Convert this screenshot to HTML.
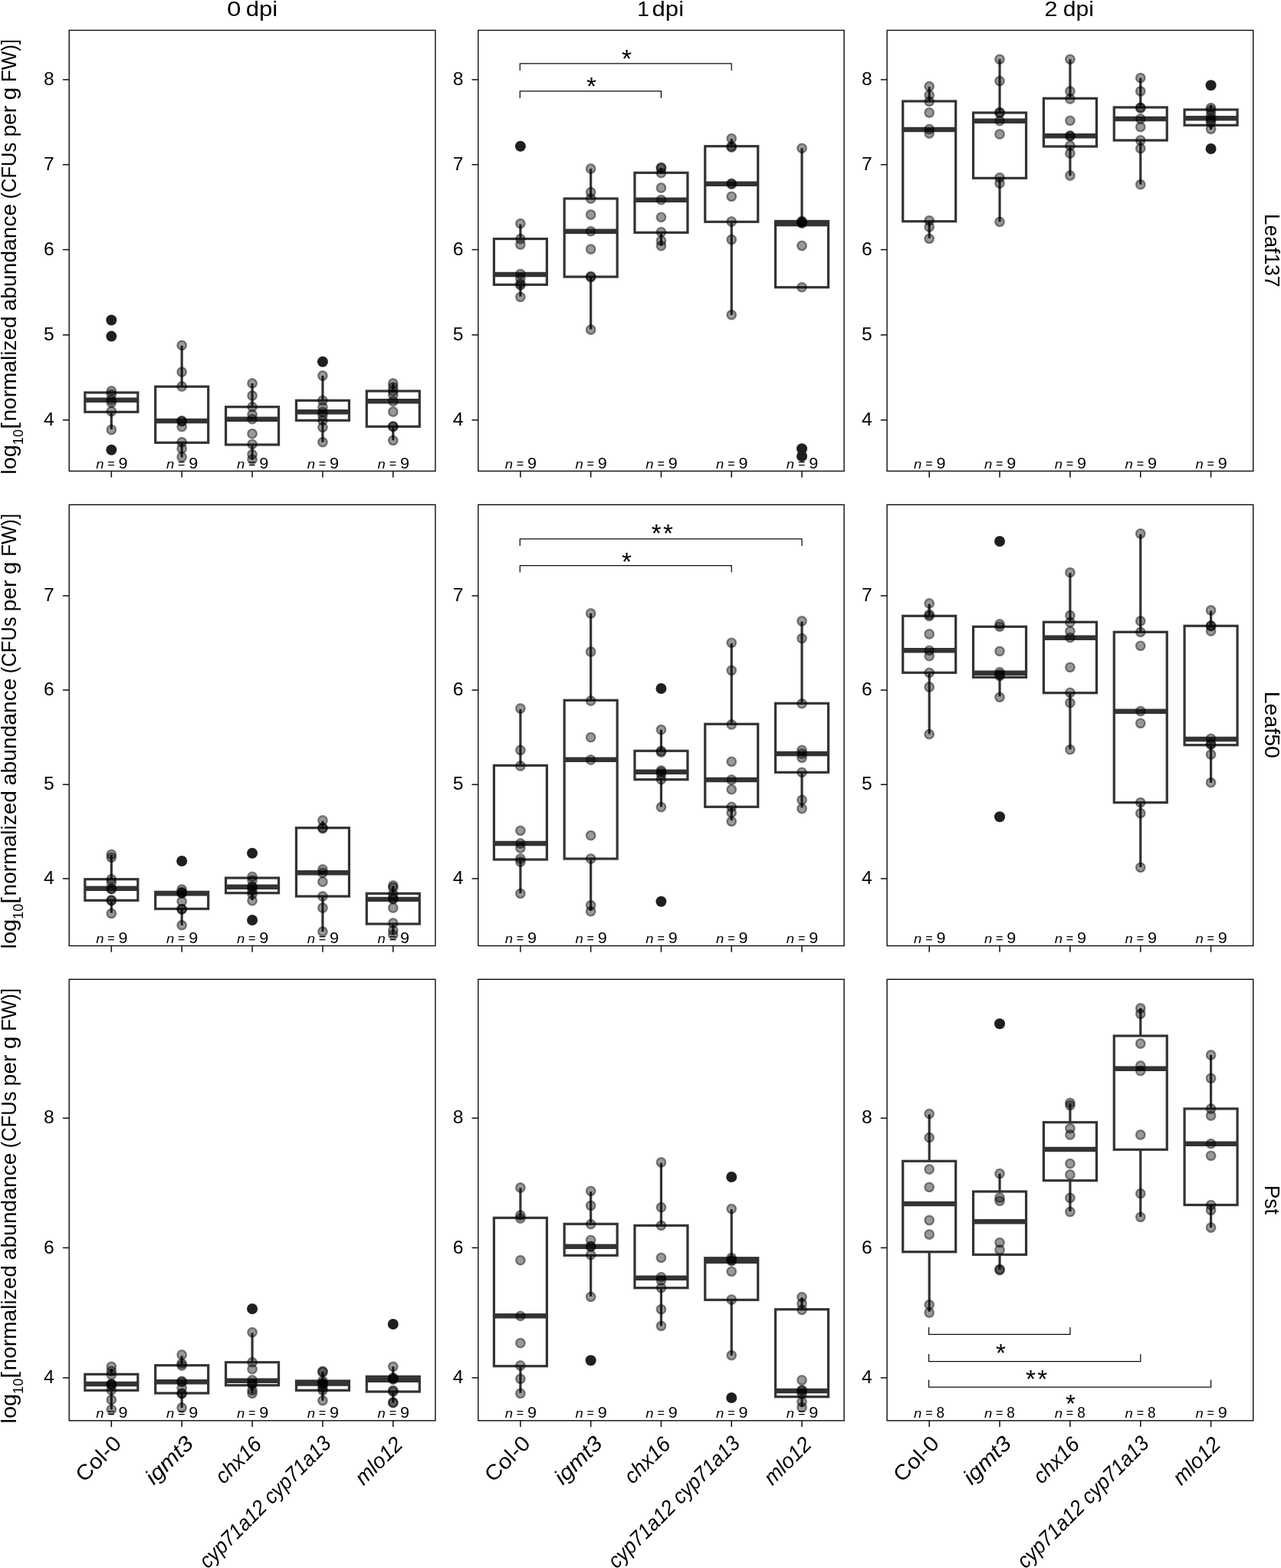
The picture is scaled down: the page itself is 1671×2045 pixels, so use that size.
<!DOCTYPE html>
<html lang="en"><head><meta charset="utf-8"><title>Bacterial abundance box plots</title>
<style>
html,body{margin:0;padding:0;background:#fff;overflow:hidden;}
body{width:1671px;height:2045px;overflow:hidden;}
svg{display:block;font-family:"Liberation Sans",sans-serif;fill:#000;}
.fr{fill:none;stroke:#0d0d0d;stroke-width:1.4;}
.tk{stroke:#0d0d0d;stroke-width:1.5;fill:none;}
.bx{fill:#fff;stroke:#333333;stroke-width:3.2;stroke-linejoin:miter;}
.wh{stroke:#333333;stroke-width:3.2;fill:none;}
.md{stroke:#333333;stroke-width:6.4;fill:none;}
.ol{fill:#1f1f1f;stroke:none;}
.pt{fill:rgba(0,0,0,0.4);stroke:rgba(0,0,0,0.45);stroke-width:2.2;}
.br{stroke:#0d0d0d;stroke-width:1.25;fill:none;}
.yt{font-size:23.5px;text-anchor:end;}
.tt{font-size:28px;}
.yl{font-size:27.8px;}
.sl{font-size:27.8px;}
.xl{font-size:27.8px;text-anchor:end;}
.nl{font-size:19.5px;}
.nn{font-size:17.4px;font-style:italic;}
.ne{font-size:14px;}
.st{font-size:33.4px;}
.it{font-style:italic;}
</style></head><body>
<svg width="1671" height="2045" viewBox="0 0 1671 2045" role="img" aria-label="Box plots of log10 normalized bacterial abundance for Leaf137, Leaf50 and Pst at 0, 1 and 2 dpi">
<rect x="0" y="0" width="1671" height="2045" fill="#fff"/>
<g class="tt">
<text y="20.8"><tspan x="296.01" textLength="18.46" lengthAdjust="spacingAndGlyphs">0</tspan> <tspan x="320.71" textLength="41.47" lengthAdjust="spacingAndGlyphs">dpi</tspan></text>
<text y="20.8"><tspan x="831.13" textLength="15.58" lengthAdjust="spacingAndGlyphs">1</tspan> <tspan x="850.51" textLength="41.58" lengthAdjust="spacingAndGlyphs">dpi</tspan></text>
<text y="20.8"><tspan x="1362.46" textLength="16.98" lengthAdjust="spacingAndGlyphs">2</tspan> <tspan x="1386.76" textLength="40.16" lengthAdjust="spacingAndGlyphs">dpi</tspan></text>
</g>
<g class="yl">
<text transform="translate(21.1,620) rotate(-90)"><tspan x="1.28" textLength="38.66" lengthAdjust="spacingAndGlyphs">log</tspan><tspan x="39.87" textLength="20.14" lengthAdjust="spacingAndGlyphs" dy="8.6" style="font-size:19px">10</tspan><tspan x="60.15" textLength="8.72" lengthAdjust="spacingAndGlyphs" dy="-8.6">[</tspan><tspan x="70.43" textLength="137.3" lengthAdjust="spacingAndGlyphs">normalized</tspan> <tspan x="214.63" textLength="139.62" lengthAdjust="spacingAndGlyphs">abundance</tspan> <tspan x="360.49" textLength="73.77" lengthAdjust="spacingAndGlyphs">(CFUs</tspan> <tspan x="441.43" textLength="40.72" lengthAdjust="spacingAndGlyphs">per</tspan> <tspan x="489.55" textLength="16.71" lengthAdjust="spacingAndGlyphs">g</tspan> <tspan x="513.01" textLength="55.9" lengthAdjust="spacingAndGlyphs">FW)]</tspan></text>
<text transform="translate(21.1,1238.8) rotate(-90)"><tspan x="1.28" textLength="38.66" lengthAdjust="spacingAndGlyphs">log</tspan><tspan x="39.87" textLength="20.14" lengthAdjust="spacingAndGlyphs" dy="8.6" style="font-size:19px">10</tspan><tspan x="60.15" textLength="8.72" lengthAdjust="spacingAndGlyphs" dy="-8.6">[</tspan><tspan x="70.43" textLength="137.3" lengthAdjust="spacingAndGlyphs">normalized</tspan> <tspan x="214.63" textLength="139.62" lengthAdjust="spacingAndGlyphs">abundance</tspan> <tspan x="360.49" textLength="73.77" lengthAdjust="spacingAndGlyphs">(CFUs</tspan> <tspan x="441.43" textLength="40.72" lengthAdjust="spacingAndGlyphs">per</tspan> <tspan x="489.55" textLength="16.71" lengthAdjust="spacingAndGlyphs">g</tspan> <tspan x="513.01" textLength="55.9" lengthAdjust="spacingAndGlyphs">FW)]</tspan></text>
<text transform="translate(21.1,1857.8) rotate(-90)"><tspan x="1.28" textLength="38.66" lengthAdjust="spacingAndGlyphs">log</tspan><tspan x="39.87" textLength="20.14" lengthAdjust="spacingAndGlyphs" dy="8.6" style="font-size:19px">10</tspan><tspan x="60.15" textLength="8.72" lengthAdjust="spacingAndGlyphs" dy="-8.6">[</tspan><tspan x="70.43" textLength="137.3" lengthAdjust="spacingAndGlyphs">normalized</tspan> <tspan x="214.63" textLength="139.62" lengthAdjust="spacingAndGlyphs">abundance</tspan> <tspan x="360.49" textLength="73.77" lengthAdjust="spacingAndGlyphs">(CFUs</tspan> <tspan x="441.43" textLength="40.72" lengthAdjust="spacingAndGlyphs">per</tspan> <tspan x="489.55" textLength="16.71" lengthAdjust="spacingAndGlyphs">g</tspan> <tspan x="513.01" textLength="55.9" lengthAdjust="spacingAndGlyphs">FW)]</tspan></text>
</g>
<g class="sl">
<text transform="translate(1649.8,278.86) rotate(90) scale(0.953,1)">Leaf137</text>
<text transform="translate(1649.7,901.69) rotate(90) scale(1.0263,1)">Leaf50</text>
<text transform="translate(1649.65,1545.65) rotate(90) scale(0.9536,1)">Pst</text>
</g>
<g>
<line class="wh" x1="145.32" y1="537.3" x2="145.32" y2="560"/>
<rect class="bx" x="110.82" y="512" width="69" height="25.3"/>
<line class="md" x1="110.82" y1="521.7" x2="179.82" y2="521.7"/>
<circle class="ol" cx="145.32" cy="417.5" r="7.0"/>
<circle class="ol" cx="145.32" cy="438.6" r="7.0"/>
<circle class="ol" cx="145.32" cy="586.7" r="7.0"/>
<line class="wh" x1="237.18" y1="451" x2="237.18" y2="504.2"/>
<line class="wh" x1="237.18" y1="577.3" x2="237.18" y2="596.7"/>
<rect class="bx" x="202.68" y="504.2" width="69" height="73.1"/>
<line class="md" x1="202.68" y1="549" x2="271.68" y2="549"/>
<line class="wh" x1="329.05" y1="500" x2="329.05" y2="530.7"/>
<line class="wh" x1="329.05" y1="580" x2="329.05" y2="600"/>
<rect class="bx" x="294.55" y="530.7" width="69" height="49.3"/>
<line class="md" x1="294.55" y1="546.7" x2="363.55" y2="546.7"/>
<line class="wh" x1="420.92" y1="490" x2="420.92" y2="522.3"/>
<line class="wh" x1="420.92" y1="548.3" x2="420.92" y2="576.7"/>
<rect class="bx" x="386.42" y="522.3" width="69" height="26"/>
<line class="md" x1="386.42" y1="537.3" x2="455.42" y2="537.3"/>
<circle class="ol" cx="420.92" cy="471.7" r="7.0"/>
<line class="wh" x1="512.78" y1="500" x2="512.78" y2="510"/>
<line class="wh" x1="512.78" y1="556.3" x2="512.78" y2="574.3"/>
<rect class="bx" x="478.28" y="510" width="69" height="46.3"/>
<line class="md" x1="478.28" y1="523.3" x2="547.28" y2="523.3"/>
<g class="nl">
<text transform="translate(145.32,611)"><tspan class="nn" x="-20.17" textLength="10.28" lengthAdjust="spacingAndGlyphs">n</tspan> <tspan class="ne" x="-5.07" dy="-1" textLength="9.45" lengthAdjust="spacingAndGlyphs">=</tspan> <tspan x="9.19" dy="1" textLength="12.04" lengthAdjust="spacingAndGlyphs">9</tspan></text>
<text transform="translate(237.18,611)"><tspan class="nn" x="-20.17" textLength="10.28" lengthAdjust="spacingAndGlyphs">n</tspan> <tspan class="ne" x="-5.07" dy="-1" textLength="9.45" lengthAdjust="spacingAndGlyphs">=</tspan> <tspan x="9.19" dy="1" textLength="12.04" lengthAdjust="spacingAndGlyphs">9</tspan></text>
<text transform="translate(329.05,611)"><tspan class="nn" x="-20.17" textLength="10.28" lengthAdjust="spacingAndGlyphs">n</tspan> <tspan class="ne" x="-5.07" dy="-1" textLength="9.45" lengthAdjust="spacingAndGlyphs">=</tspan> <tspan x="9.19" dy="1" textLength="12.04" lengthAdjust="spacingAndGlyphs">9</tspan></text>
<text transform="translate(420.92,611)"><tspan class="nn" x="-20.17" textLength="10.28" lengthAdjust="spacingAndGlyphs">n</tspan> <tspan class="ne" x="-5.07" dy="-1" textLength="9.45" lengthAdjust="spacingAndGlyphs">=</tspan> <tspan x="9.19" dy="1" textLength="12.04" lengthAdjust="spacingAndGlyphs">9</tspan></text>
<text transform="translate(512.78,611)"><tspan class="nn" x="-20.17" textLength="10.28" lengthAdjust="spacingAndGlyphs">n</tspan> <tspan class="ne" x="-5.07" dy="-1" textLength="9.45" lengthAdjust="spacingAndGlyphs">=</tspan> <tspan x="9.19" dy="1" textLength="12.04" lengthAdjust="spacingAndGlyphs">9</tspan></text>
</g>
<circle class="pt" cx="145.32" cy="510" r="5.8"/>
<circle class="pt" cx="145.32" cy="514.5" r="5.8"/>
<circle class="pt" cx="145.32" cy="521.7" r="5.8"/>
<circle class="pt" cx="145.32" cy="525" r="5.8"/>
<circle class="pt" cx="145.32" cy="536.5" r="5.8"/>
<circle class="pt" cx="145.32" cy="560.5" r="5.8"/>
<circle class="pt" cx="237.18" cy="450.4" r="5.8"/>
<circle class="pt" cx="237.18" cy="485.2" r="5.8"/>
<circle class="pt" cx="237.18" cy="504" r="5.8"/>
<circle class="pt" cx="237.18" cy="549" r="5.8"/>
<circle class="pt" cx="237.18" cy="549.5" r="5.8"/>
<circle class="pt" cx="237.18" cy="556.7" r="5.8"/>
<circle class="pt" cx="237.18" cy="576.7" r="5.8"/>
<circle class="pt" cx="237.18" cy="585" r="5.8"/>
<circle class="pt" cx="237.18" cy="596" r="5.8"/>
<circle class="pt" cx="329.05" cy="500" r="5.8"/>
<circle class="pt" cx="329.05" cy="516" r="5.8"/>
<circle class="pt" cx="329.05" cy="530.7" r="5.8"/>
<circle class="pt" cx="329.05" cy="540.7" r="5.8"/>
<circle class="pt" cx="329.05" cy="546.7" r="5.8"/>
<circle class="pt" cx="329.05" cy="565.7" r="5.8"/>
<circle class="pt" cx="329.05" cy="579.3" r="5.8"/>
<circle class="pt" cx="329.05" cy="592.7" r="5.8"/>
<circle class="pt" cx="329.05" cy="599.3" r="5.8"/>
<circle class="pt" cx="420.92" cy="490" r="5.8"/>
<circle class="pt" cx="420.92" cy="522.3" r="5.8"/>
<circle class="pt" cx="420.92" cy="531" r="5.8"/>
<circle class="pt" cx="420.92" cy="537.3" r="5.8"/>
<circle class="pt" cx="420.92" cy="541.7" r="5.8"/>
<circle class="pt" cx="420.92" cy="548.3" r="5.8"/>
<circle class="pt" cx="420.92" cy="557.3" r="5.8"/>
<circle class="pt" cx="420.92" cy="576.7" r="5.8"/>
<circle class="pt" cx="512.78" cy="500" r="5.8"/>
<circle class="pt" cx="512.78" cy="505" r="5.8"/>
<circle class="pt" cx="512.78" cy="510" r="5.8"/>
<circle class="pt" cx="512.78" cy="515" r="5.8"/>
<circle class="pt" cx="512.78" cy="523.3" r="5.8"/>
<circle class="pt" cx="512.78" cy="537" r="5.8"/>
<circle class="pt" cx="512.78" cy="556" r="5.8"/>
<circle class="pt" cx="512.78" cy="556.5" r="5.8"/>
<circle class="pt" cx="512.78" cy="574.3" r="5.8"/>
<rect class="fr" x="90.2" y="39.5" width="477.7" height="574.9"/>
<line class="tk" x1="81.9" y1="103.9" x2="90.2" y2="103.9"/>
<text class="yt" transform="translate(70.8,111) scale(1.05,1)">8</text>
<line class="tk" x1="81.9" y1="214.7" x2="90.2" y2="214.7"/>
<text class="yt" transform="translate(70.8,221.8) scale(1.05,1)">7</text>
<line class="tk" x1="81.9" y1="325.6" x2="90.2" y2="325.6"/>
<text class="yt" transform="translate(70.8,332.7) scale(1.05,1)">6</text>
<line class="tk" x1="81.9" y1="436.8" x2="90.2" y2="436.8"/>
<text class="yt" transform="translate(70.8,443.9) scale(1.05,1)">5</text>
<line class="tk" x1="81.9" y1="547.8" x2="90.2" y2="547.8"/>
<text class="yt" transform="translate(70.8,554.9) scale(1.05,1)">4</text>
<line class="tk" x1="145.32" y1="614.4" x2="145.32" y2="622.7"/>
<line class="tk" x1="237.18" y1="614.4" x2="237.18" y2="622.7"/>
<line class="tk" x1="329.05" y1="614.4" x2="329.05" y2="622.7"/>
<line class="tk" x1="420.92" y1="614.4" x2="420.92" y2="622.7"/>
<line class="tk" x1="512.78" y1="614.4" x2="512.78" y2="622.7"/>
</g>
<g>
<line class="wh" x1="678.87" y1="292.5" x2="678.87" y2="311.5"/>
<line class="wh" x1="678.87" y1="371.3" x2="678.87" y2="386.7"/>
<rect class="bx" x="644.37" y="311.5" width="69" height="59.8"/>
<line class="md" x1="644.37" y1="358" x2="713.37" y2="358"/>
<circle class="ol" cx="678.87" cy="190.7" r="7.0"/>
<line class="wh" x1="770.66" y1="220" x2="770.66" y2="259"/>
<line class="wh" x1="770.66" y1="361" x2="770.66" y2="429.5"/>
<rect class="bx" x="736.16" y="259" width="69" height="102"/>
<line class="md" x1="736.16" y1="301.7" x2="805.16" y2="301.7"/>
<line class="wh" x1="862.45" y1="219.3" x2="862.45" y2="225.3"/>
<line class="wh" x1="862.45" y1="303.3" x2="862.45" y2="320"/>
<rect class="bx" x="827.95" y="225.3" width="69" height="78"/>
<line class="md" x1="827.95" y1="260.7" x2="896.95" y2="260.7"/>
<line class="wh" x1="954.24" y1="181" x2="954.24" y2="190.7"/>
<line class="wh" x1="954.24" y1="289.3" x2="954.24" y2="410.7"/>
<rect class="bx" x="919.74" y="190.7" width="69" height="98.6"/>
<line class="md" x1="919.74" y1="239.7" x2="988.74" y2="239.7"/>
<line class="wh" x1="1046.03" y1="193.3" x2="1046.03" y2="288.5"/>
<rect class="bx" x="1011.53" y="288.5" width="69" height="86.2"/>
<line class="md" x1="1011.53" y1="292" x2="1080.53" y2="292"/>
<circle class="ol" cx="1046.03" cy="585.3" r="7.0"/>
<circle class="ol" cx="1046.03" cy="595" r="7.0"/>
<g class="nl">
<text transform="translate(678.87,611)"><tspan class="nn" x="-20.17" textLength="10.28" lengthAdjust="spacingAndGlyphs">n</tspan> <tspan class="ne" x="-5.07" dy="-1" textLength="9.45" lengthAdjust="spacingAndGlyphs">=</tspan> <tspan x="9.19" dy="1" textLength="12.04" lengthAdjust="spacingAndGlyphs">9</tspan></text>
<text transform="translate(770.66,611)"><tspan class="nn" x="-20.17" textLength="10.28" lengthAdjust="spacingAndGlyphs">n</tspan> <tspan class="ne" x="-5.07" dy="-1" textLength="9.45" lengthAdjust="spacingAndGlyphs">=</tspan> <tspan x="9.19" dy="1" textLength="12.04" lengthAdjust="spacingAndGlyphs">9</tspan></text>
<text transform="translate(862.45,611)"><tspan class="nn" x="-20.17" textLength="10.28" lengthAdjust="spacingAndGlyphs">n</tspan> <tspan class="ne" x="-5.07" dy="-1" textLength="9.45" lengthAdjust="spacingAndGlyphs">=</tspan> <tspan x="9.19" dy="1" textLength="12.04" lengthAdjust="spacingAndGlyphs">9</tspan></text>
<text transform="translate(954.24,611)"><tspan class="nn" x="-20.17" textLength="10.28" lengthAdjust="spacingAndGlyphs">n</tspan> <tspan class="ne" x="-5.07" dy="-1" textLength="9.45" lengthAdjust="spacingAndGlyphs">=</tspan> <tspan x="9.19" dy="1" textLength="12.04" lengthAdjust="spacingAndGlyphs">9</tspan></text>
<text transform="translate(1046.03,611)"><tspan class="nn" x="-20.17" textLength="10.28" lengthAdjust="spacingAndGlyphs">n</tspan> <tspan class="ne" x="-5.07" dy="-1" textLength="9.45" lengthAdjust="spacingAndGlyphs">=</tspan> <tspan x="9.19" dy="1" textLength="12.04" lengthAdjust="spacingAndGlyphs">9</tspan></text>
</g>
<circle class="pt" cx="678.87" cy="291.7" r="5.8"/>
<circle class="pt" cx="678.87" cy="311.7" r="5.8"/>
<circle class="pt" cx="678.87" cy="319" r="5.8"/>
<circle class="pt" cx="678.87" cy="357.3" r="5.8"/>
<circle class="pt" cx="678.87" cy="363.3" r="5.8"/>
<circle class="pt" cx="678.87" cy="370" r="5.8"/>
<circle class="pt" cx="678.87" cy="372" r="5.8"/>
<circle class="pt" cx="678.87" cy="387.3" r="5.8"/>
<circle class="pt" cx="770.66" cy="220" r="5.8"/>
<circle class="pt" cx="770.66" cy="250.7" r="5.8"/>
<circle class="pt" cx="770.66" cy="259" r="5.8"/>
<circle class="pt" cx="770.66" cy="280" r="5.8"/>
<circle class="pt" cx="770.66" cy="301.7" r="5.8"/>
<circle class="pt" cx="770.66" cy="325" r="5.8"/>
<circle class="pt" cx="770.66" cy="360.5" r="5.8"/>
<circle class="pt" cx="770.66" cy="361.5" r="5.8"/>
<circle class="pt" cx="770.66" cy="430" r="5.8"/>
<circle class="pt" cx="862.45" cy="218.5" r="5.8"/>
<circle class="pt" cx="862.45" cy="219.5" r="5.8"/>
<circle class="pt" cx="862.45" cy="225.7" r="5.8"/>
<circle class="pt" cx="862.45" cy="245" r="5.8"/>
<circle class="pt" cx="862.45" cy="260.7" r="5.8"/>
<circle class="pt" cx="862.45" cy="283.3" r="5.8"/>
<circle class="pt" cx="862.45" cy="302.7" r="5.8"/>
<circle class="pt" cx="862.45" cy="314" r="5.8"/>
<circle class="pt" cx="862.45" cy="320.7" r="5.8"/>
<circle class="pt" cx="954.24" cy="180.7" r="5.8"/>
<circle class="pt" cx="954.24" cy="191" r="5.8"/>
<circle class="pt" cx="954.24" cy="192" r="5.8"/>
<circle class="pt" cx="954.24" cy="239.5" r="5.8"/>
<circle class="pt" cx="954.24" cy="240" r="5.8"/>
<circle class="pt" cx="954.24" cy="256.3" r="5.8"/>
<circle class="pt" cx="954.24" cy="289" r="5.8"/>
<circle class="pt" cx="954.24" cy="312.5" r="5.8"/>
<circle class="pt" cx="954.24" cy="410.7" r="5.8"/>
<circle class="pt" cx="1046.03" cy="193.3" r="5.8"/>
<circle class="pt" cx="1046.03" cy="288.5" r="5.8"/>
<circle class="pt" cx="1046.03" cy="289.5" r="5.8"/>
<circle class="pt" cx="1046.03" cy="290.5" r="5.8"/>
<circle class="pt" cx="1046.03" cy="291" r="5.8"/>
<circle class="pt" cx="1046.03" cy="320.5" r="5.8"/>
<circle class="pt" cx="1046.03" cy="374.7" r="5.8"/>
<path class="br" d="M678.27 92 V82.9 H954.24 V92"/>
<path class="br" d="M678.27 128 V118.96 H862.45 V128"/>
<rect class="fr" x="623.8" y="39.5" width="477.3" height="574.9"/>
<line class="tk" x1="615.5" y1="103.9" x2="623.8" y2="103.9"/>
<text class="yt" transform="translate(604.4,111) scale(1.05,1)">8</text>
<line class="tk" x1="615.5" y1="214.7" x2="623.8" y2="214.7"/>
<text class="yt" transform="translate(604.4,221.8) scale(1.05,1)">7</text>
<line class="tk" x1="615.5" y1="325.6" x2="623.8" y2="325.6"/>
<text class="yt" transform="translate(604.4,332.7) scale(1.05,1)">6</text>
<line class="tk" x1="615.5" y1="436.8" x2="623.8" y2="436.8"/>
<text class="yt" transform="translate(604.4,443.9) scale(1.05,1)">5</text>
<line class="tk" x1="615.5" y1="547.8" x2="623.8" y2="547.8"/>
<text class="yt" transform="translate(604.4,554.9) scale(1.05,1)">4</text>
<line class="tk" x1="678.87" y1="614.4" x2="678.87" y2="622.7"/>
<line class="tk" x1="770.66" y1="614.4" x2="770.66" y2="622.7"/>
<line class="tk" x1="862.45" y1="614.4" x2="862.45" y2="622.7"/>
<line class="tk" x1="954.24" y1="614.4" x2="954.24" y2="622.7"/>
<line class="tk" x1="1046.03" y1="614.4" x2="1046.03" y2="622.7"/>
</g>
<g>
<line class="wh" x1="1212.21" y1="113.3" x2="1212.21" y2="132"/>
<line class="wh" x1="1212.21" y1="288.7" x2="1212.21" y2="310.7"/>
<rect class="bx" x="1177.71" y="132" width="69" height="156.7"/>
<line class="md" x1="1177.71" y1="169" x2="1246.71" y2="169"/>
<line class="wh" x1="1304.05" y1="77.3" x2="1304.05" y2="147"/>
<line class="wh" x1="1304.05" y1="232.3" x2="1304.05" y2="289.3"/>
<rect class="bx" x="1269.55" y="147" width="69" height="85.3"/>
<line class="md" x1="1269.55" y1="157.7" x2="1338.55" y2="157.7"/>
<line class="wh" x1="1395.9" y1="77.3" x2="1395.9" y2="128.3"/>
<line class="wh" x1="1395.9" y1="191" x2="1395.9" y2="229"/>
<rect class="bx" x="1361.4" y="128.3" width="69" height="62.7"/>
<line class="md" x1="1361.4" y1="177.3" x2="1430.4" y2="177.3"/>
<line class="wh" x1="1487.75" y1="101.7" x2="1487.75" y2="140"/>
<line class="wh" x1="1487.75" y1="183" x2="1487.75" y2="240.7"/>
<rect class="bx" x="1453.25" y="140" width="69" height="43"/>
<line class="md" x1="1453.25" y1="155" x2="1522.25" y2="155"/>
<line class="wh" x1="1579.59" y1="136.7" x2="1579.59" y2="143"/>
<line class="wh" x1="1579.59" y1="163.3" x2="1579.59" y2="169"/>
<rect class="bx" x="1545.09" y="143" width="69" height="20.3"/>
<line class="md" x1="1545.09" y1="154.3" x2="1614.09" y2="154.3"/>
<circle class="ol" cx="1579.59" cy="111.3" r="7.0"/>
<circle class="ol" cx="1579.59" cy="194" r="7.0"/>
<g class="nl">
<text transform="translate(1212.21,611)"><tspan class="nn" x="-20.17" textLength="10.28" lengthAdjust="spacingAndGlyphs">n</tspan> <tspan class="ne" x="-5.07" dy="-1" textLength="9.45" lengthAdjust="spacingAndGlyphs">=</tspan> <tspan x="9.19" dy="1" textLength="12.04" lengthAdjust="spacingAndGlyphs">9</tspan></text>
<text transform="translate(1304.05,611)"><tspan class="nn" x="-20.17" textLength="10.28" lengthAdjust="spacingAndGlyphs">n</tspan> <tspan class="ne" x="-5.07" dy="-1" textLength="9.45" lengthAdjust="spacingAndGlyphs">=</tspan> <tspan x="9.19" dy="1" textLength="12.04" lengthAdjust="spacingAndGlyphs">9</tspan></text>
<text transform="translate(1395.9,611)"><tspan class="nn" x="-20.17" textLength="10.28" lengthAdjust="spacingAndGlyphs">n</tspan> <tspan class="ne" x="-5.07" dy="-1" textLength="9.45" lengthAdjust="spacingAndGlyphs">=</tspan> <tspan x="9.19" dy="1" textLength="12.04" lengthAdjust="spacingAndGlyphs">9</tspan></text>
<text transform="translate(1487.75,611)"><tspan class="nn" x="-20.17" textLength="10.28" lengthAdjust="spacingAndGlyphs">n</tspan> <tspan class="ne" x="-5.07" dy="-1" textLength="9.45" lengthAdjust="spacingAndGlyphs">=</tspan> <tspan x="9.19" dy="1" textLength="12.04" lengthAdjust="spacingAndGlyphs">9</tspan></text>
<text transform="translate(1579.59,611)"><tspan class="nn" x="-20.17" textLength="10.28" lengthAdjust="spacingAndGlyphs">n</tspan> <tspan class="ne" x="-5.07" dy="-1" textLength="9.45" lengthAdjust="spacingAndGlyphs">=</tspan> <tspan x="9.19" dy="1" textLength="12.04" lengthAdjust="spacingAndGlyphs">9</tspan></text>
</g>
<circle class="pt" cx="1212.21" cy="112.7" r="5.8"/>
<circle class="pt" cx="1212.21" cy="124" r="5.8"/>
<circle class="pt" cx="1212.21" cy="132.3" r="5.8"/>
<circle class="pt" cx="1212.21" cy="147" r="5.8"/>
<circle class="pt" cx="1212.21" cy="168.5" r="5.8"/>
<circle class="pt" cx="1212.21" cy="174" r="5.8"/>
<circle class="pt" cx="1212.21" cy="287.7" r="5.8"/>
<circle class="pt" cx="1212.21" cy="296" r="5.8"/>
<circle class="pt" cx="1212.21" cy="311.3" r="5.8"/>
<circle class="pt" cx="1304.05" cy="77.3" r="5.8"/>
<circle class="pt" cx="1304.05" cy="105.7" r="5.8"/>
<circle class="pt" cx="1304.05" cy="146.5" r="5.8"/>
<circle class="pt" cx="1304.05" cy="147.5" r="5.8"/>
<circle class="pt" cx="1304.05" cy="157.7" r="5.8"/>
<circle class="pt" cx="1304.05" cy="175" r="5.8"/>
<circle class="pt" cx="1304.05" cy="231.7" r="5.8"/>
<circle class="pt" cx="1304.05" cy="239" r="5.8"/>
<circle class="pt" cx="1304.05" cy="289.3" r="5.8"/>
<circle class="pt" cx="1395.9" cy="77.3" r="5.8"/>
<circle class="pt" cx="1395.9" cy="119" r="5.8"/>
<circle class="pt" cx="1395.9" cy="129" r="5.8"/>
<circle class="pt" cx="1395.9" cy="157.3" r="5.8"/>
<circle class="pt" cx="1395.9" cy="177" r="5.8"/>
<circle class="pt" cx="1395.9" cy="177.6" r="5.8"/>
<circle class="pt" cx="1395.9" cy="190" r="5.8"/>
<circle class="pt" cx="1395.9" cy="200" r="5.8"/>
<circle class="pt" cx="1395.9" cy="229" r="5.8"/>
<circle class="pt" cx="1487.75" cy="101.7" r="5.8"/>
<circle class="pt" cx="1487.75" cy="119" r="5.8"/>
<circle class="pt" cx="1487.75" cy="140.2" r="5.8"/>
<circle class="pt" cx="1487.75" cy="141" r="5.8"/>
<circle class="pt" cx="1487.75" cy="155" r="5.8"/>
<circle class="pt" cx="1487.75" cy="165.7" r="5.8"/>
<circle class="pt" cx="1487.75" cy="183" r="5.8"/>
<circle class="pt" cx="1487.75" cy="193.7" r="5.8"/>
<circle class="pt" cx="1487.75" cy="240.7" r="5.8"/>
<circle class="pt" cx="1579.59" cy="140.7" r="5.8"/>
<circle class="pt" cx="1579.59" cy="144" r="5.8"/>
<circle class="pt" cx="1579.59" cy="150" r="5.8"/>
<circle class="pt" cx="1579.59" cy="154.3" r="5.8"/>
<circle class="pt" cx="1579.59" cy="157" r="5.8"/>
<circle class="pt" cx="1579.59" cy="160" r="5.8"/>
<circle class="pt" cx="1579.59" cy="168.3" r="5.8"/>
<rect class="fr" x="1157.1" y="39.5" width="477.6" height="574.9"/>
<line class="tk" x1="1148.8" y1="103.9" x2="1157.1" y2="103.9"/>
<text class="yt" transform="translate(1137.7,111) scale(1.05,1)">8</text>
<line class="tk" x1="1148.8" y1="214.7" x2="1157.1" y2="214.7"/>
<text class="yt" transform="translate(1137.7,221.8) scale(1.05,1)">7</text>
<line class="tk" x1="1148.8" y1="325.6" x2="1157.1" y2="325.6"/>
<text class="yt" transform="translate(1137.7,332.7) scale(1.05,1)">6</text>
<line class="tk" x1="1148.8" y1="436.8" x2="1157.1" y2="436.8"/>
<text class="yt" transform="translate(1137.7,443.9) scale(1.05,1)">5</text>
<line class="tk" x1="1148.8" y1="547.8" x2="1157.1" y2="547.8"/>
<text class="yt" transform="translate(1137.7,554.9) scale(1.05,1)">4</text>
<line class="tk" x1="1212.21" y1="614.4" x2="1212.21" y2="622.7"/>
<line class="tk" x1="1304.05" y1="614.4" x2="1304.05" y2="622.7"/>
<line class="tk" x1="1395.9" y1="614.4" x2="1395.9" y2="622.7"/>
<line class="tk" x1="1487.75" y1="614.4" x2="1487.75" y2="622.7"/>
<line class="tk" x1="1579.59" y1="614.4" x2="1579.59" y2="622.7"/>
</g>
<g>
<line class="wh" x1="145.32" y1="1115" x2="145.32" y2="1146.7"/>
<line class="wh" x1="145.32" y1="1174.3" x2="145.32" y2="1190.7"/>
<rect class="bx" x="110.82" y="1146.7" width="69" height="27.6"/>
<line class="md" x1="110.82" y1="1158.7" x2="179.82" y2="1158.7"/>
<line class="wh" x1="237.18" y1="1185.3" x2="237.18" y2="1206.7"/>
<rect class="bx" x="202.68" y="1163.3" width="69" height="22"/>
<line class="md" x1="202.68" y1="1165.3" x2="271.68" y2="1165.3"/>
<circle class="ol" cx="237.18" cy="1123" r="7.0"/>
<line class="wh" x1="329.05" y1="1164.7" x2="329.05" y2="1174"/>
<rect class="bx" x="294.55" y="1145" width="69" height="19.7"/>
<line class="md" x1="294.55" y1="1156.7" x2="363.55" y2="1156.7"/>
<circle class="ol" cx="329.05" cy="1112.7" r="7.0"/>
<circle class="ol" cx="329.05" cy="1200" r="7.0"/>
<line class="wh" x1="420.92" y1="1070.7" x2="420.92" y2="1079.7"/>
<line class="wh" x1="420.92" y1="1169" x2="420.92" y2="1215"/>
<rect class="bx" x="386.42" y="1079.7" width="69" height="89.3"/>
<line class="md" x1="386.42" y1="1138.3" x2="455.42" y2="1138.3"/>
<line class="wh" x1="512.78" y1="1155.7" x2="512.78" y2="1165.3"/>
<line class="wh" x1="512.78" y1="1205" x2="512.78" y2="1218.3"/>
<rect class="bx" x="478.28" y="1165.3" width="69" height="39.7"/>
<line class="md" x1="478.28" y1="1172.9" x2="547.28" y2="1172.9"/>
<g class="nl">
<text transform="translate(145.32,1230)"><tspan class="nn" x="-20.17" textLength="10.28" lengthAdjust="spacingAndGlyphs">n</tspan> <tspan class="ne" x="-5.07" dy="-1" textLength="9.45" lengthAdjust="spacingAndGlyphs">=</tspan> <tspan x="9.19" dy="1" textLength="12.04" lengthAdjust="spacingAndGlyphs">9</tspan></text>
<text transform="translate(237.18,1230)"><tspan class="nn" x="-20.17" textLength="10.28" lengthAdjust="spacingAndGlyphs">n</tspan> <tspan class="ne" x="-5.07" dy="-1" textLength="9.45" lengthAdjust="spacingAndGlyphs">=</tspan> <tspan x="9.19" dy="1" textLength="12.04" lengthAdjust="spacingAndGlyphs">9</tspan></text>
<text transform="translate(329.05,1230)"><tspan class="nn" x="-20.17" textLength="10.28" lengthAdjust="spacingAndGlyphs">n</tspan> <tspan class="ne" x="-5.07" dy="-1" textLength="9.45" lengthAdjust="spacingAndGlyphs">=</tspan> <tspan x="9.19" dy="1" textLength="12.04" lengthAdjust="spacingAndGlyphs">9</tspan></text>
<text transform="translate(420.92,1230)"><tspan class="nn" x="-20.17" textLength="10.28" lengthAdjust="spacingAndGlyphs">n</tspan> <tspan class="ne" x="-5.07" dy="-1" textLength="9.45" lengthAdjust="spacingAndGlyphs">=</tspan> <tspan x="9.19" dy="1" textLength="12.04" lengthAdjust="spacingAndGlyphs">9</tspan></text>
<text transform="translate(512.78,1230)"><tspan class="nn" x="-20.17" textLength="10.28" lengthAdjust="spacingAndGlyphs">n</tspan> <tspan class="ne" x="-5.07" dy="-1" textLength="9.45" lengthAdjust="spacingAndGlyphs">=</tspan> <tspan x="9.19" dy="1" textLength="12.04" lengthAdjust="spacingAndGlyphs">9</tspan></text>
</g>
<circle class="pt" cx="145.32" cy="1114.3" r="5.8"/>
<circle class="pt" cx="145.32" cy="1118.3" r="5.8"/>
<circle class="pt" cx="145.32" cy="1146.7" r="5.8"/>
<circle class="pt" cx="145.32" cy="1151" r="5.8"/>
<circle class="pt" cx="145.32" cy="1159" r="5.8"/>
<circle class="pt" cx="145.32" cy="1159.6" r="5.8"/>
<circle class="pt" cx="145.32" cy="1174" r="5.8"/>
<circle class="pt" cx="145.32" cy="1174.6" r="5.8"/>
<circle class="pt" cx="145.32" cy="1191.3" r="5.8"/>
<circle class="pt" cx="237.18" cy="1160" r="5.8"/>
<circle class="pt" cx="237.18" cy="1163.5" r="5.8"/>
<circle class="pt" cx="237.18" cy="1164.5" r="5.8"/>
<circle class="pt" cx="237.18" cy="1165" r="5.8"/>
<circle class="pt" cx="237.18" cy="1175.7" r="5.8"/>
<circle class="pt" cx="237.18" cy="1185.7" r="5.8"/>
<circle class="pt" cx="237.18" cy="1186" r="5.8"/>
<circle class="pt" cx="237.18" cy="1206.7" r="5.8"/>
<circle class="pt" cx="329.05" cy="1143.3" r="5.8"/>
<circle class="pt" cx="329.05" cy="1148" r="5.8"/>
<circle class="pt" cx="329.05" cy="1156.3" r="5.8"/>
<circle class="pt" cx="329.05" cy="1157" r="5.8"/>
<circle class="pt" cx="329.05" cy="1161.7" r="5.8"/>
<circle class="pt" cx="329.05" cy="1166" r="5.8"/>
<circle class="pt" cx="329.05" cy="1174.7" r="5.8"/>
<circle class="pt" cx="420.92" cy="1070" r="5.8"/>
<circle class="pt" cx="420.92" cy="1079.5" r="5.8"/>
<circle class="pt" cx="420.92" cy="1080.5" r="5.8"/>
<circle class="pt" cx="420.92" cy="1134" r="5.8"/>
<circle class="pt" cx="420.92" cy="1138.3" r="5.8"/>
<circle class="pt" cx="420.92" cy="1150" r="5.8"/>
<circle class="pt" cx="420.92" cy="1169" r="5.8"/>
<circle class="pt" cx="420.92" cy="1184" r="5.8"/>
<circle class="pt" cx="420.92" cy="1215" r="5.8"/>
<circle class="pt" cx="512.78" cy="1155" r="5.8"/>
<circle class="pt" cx="512.78" cy="1157.5" r="5.8"/>
<circle class="pt" cx="512.78" cy="1166.5" r="5.8"/>
<circle class="pt" cx="512.78" cy="1172" r="5.8"/>
<circle class="pt" cx="512.78" cy="1172.6" r="5.8"/>
<circle class="pt" cx="512.78" cy="1184" r="5.8"/>
<circle class="pt" cx="512.78" cy="1204" r="5.8"/>
<circle class="pt" cx="512.78" cy="1213.3" r="5.8"/>
<circle class="pt" cx="512.78" cy="1219" r="5.8"/>
<rect class="fr" x="90.2" y="658.3" width="477.7" height="575.2"/>
<line class="tk" x1="81.9" y1="777" x2="90.2" y2="777"/>
<text class="yt" transform="translate(70.8,784.1) scale(1.05,1)">7</text>
<line class="tk" x1="81.9" y1="900" x2="90.2" y2="900"/>
<text class="yt" transform="translate(70.8,907.1) scale(1.05,1)">6</text>
<line class="tk" x1="81.9" y1="1023.2" x2="90.2" y2="1023.2"/>
<text class="yt" transform="translate(70.8,1030.3) scale(1.05,1)">5</text>
<line class="tk" x1="81.9" y1="1145.9" x2="90.2" y2="1145.9"/>
<text class="yt" transform="translate(70.8,1153) scale(1.05,1)">4</text>
<line class="tk" x1="145.32" y1="1233.5" x2="145.32" y2="1241.8"/>
<line class="tk" x1="237.18" y1="1233.5" x2="237.18" y2="1241.8"/>
<line class="tk" x1="329.05" y1="1233.5" x2="329.05" y2="1241.8"/>
<line class="tk" x1="420.92" y1="1233.5" x2="420.92" y2="1241.8"/>
<line class="tk" x1="512.78" y1="1233.5" x2="512.78" y2="1241.8"/>
</g>
<g>
<line class="wh" x1="678.87" y1="925" x2="678.87" y2="998.3"/>
<line class="wh" x1="678.87" y1="1121" x2="678.87" y2="1165"/>
<rect class="bx" x="644.37" y="998.3" width="69" height="122.7"/>
<line class="md" x1="644.37" y1="1100" x2="713.37" y2="1100"/>
<line class="wh" x1="770.66" y1="800" x2="770.66" y2="913.3"/>
<line class="wh" x1="770.66" y1="1120" x2="770.66" y2="1187.7"/>
<rect class="bx" x="736.16" y="913.3" width="69" height="206.7"/>
<line class="md" x1="736.16" y1="990.7" x2="805.16" y2="990.7"/>
<line class="wh" x1="862.45" y1="951.7" x2="862.45" y2="979.3"/>
<line class="wh" x1="862.45" y1="1016.7" x2="862.45" y2="1052.3"/>
<rect class="bx" x="827.95" y="979.3" width="69" height="37.4"/>
<line class="md" x1="827.95" y1="1006.7" x2="896.95" y2="1006.7"/>
<circle class="ol" cx="862.45" cy="898" r="7.0"/>
<circle class="ol" cx="862.45" cy="1175.7" r="7.0"/>
<line class="wh" x1="954.24" y1="839" x2="954.24" y2="944.3"/>
<line class="wh" x1="954.24" y1="1052.3" x2="954.24" y2="1070"/>
<rect class="bx" x="919.74" y="944.3" width="69" height="108"/>
<line class="md" x1="919.74" y1="1017" x2="988.74" y2="1017"/>
<line class="wh" x1="1046.03" y1="810.7" x2="1046.03" y2="917.3"/>
<line class="wh" x1="1046.03" y1="1007.3" x2="1046.03" y2="1053.3"/>
<rect class="bx" x="1011.53" y="917.3" width="69" height="90"/>
<line class="md" x1="1011.53" y1="983" x2="1080.53" y2="983"/>
<g class="nl">
<text transform="translate(678.87,1230)"><tspan class="nn" x="-20.17" textLength="10.28" lengthAdjust="spacingAndGlyphs">n</tspan> <tspan class="ne" x="-5.07" dy="-1" textLength="9.45" lengthAdjust="spacingAndGlyphs">=</tspan> <tspan x="9.19" dy="1" textLength="12.04" lengthAdjust="spacingAndGlyphs">9</tspan></text>
<text transform="translate(770.66,1230)"><tspan class="nn" x="-20.17" textLength="10.28" lengthAdjust="spacingAndGlyphs">n</tspan> <tspan class="ne" x="-5.07" dy="-1" textLength="9.45" lengthAdjust="spacingAndGlyphs">=</tspan> <tspan x="9.19" dy="1" textLength="12.04" lengthAdjust="spacingAndGlyphs">9</tspan></text>
<text transform="translate(862.45,1230)"><tspan class="nn" x="-20.17" textLength="10.28" lengthAdjust="spacingAndGlyphs">n</tspan> <tspan class="ne" x="-5.07" dy="-1" textLength="9.45" lengthAdjust="spacingAndGlyphs">=</tspan> <tspan x="9.19" dy="1" textLength="12.04" lengthAdjust="spacingAndGlyphs">9</tspan></text>
<text transform="translate(954.24,1230)"><tspan class="nn" x="-20.17" textLength="10.28" lengthAdjust="spacingAndGlyphs">n</tspan> <tspan class="ne" x="-5.07" dy="-1" textLength="9.45" lengthAdjust="spacingAndGlyphs">=</tspan> <tspan x="9.19" dy="1" textLength="12.04" lengthAdjust="spacingAndGlyphs">9</tspan></text>
<text transform="translate(1046.03,1230)"><tspan class="nn" x="-20.17" textLength="10.28" lengthAdjust="spacingAndGlyphs">n</tspan> <tspan class="ne" x="-5.07" dy="-1" textLength="9.45" lengthAdjust="spacingAndGlyphs">=</tspan> <tspan x="9.19" dy="1" textLength="12.04" lengthAdjust="spacingAndGlyphs">9</tspan></text>
</g>
<circle class="pt" cx="678.87" cy="924" r="5.8"/>
<circle class="pt" cx="678.87" cy="978.3" r="5.8"/>
<circle class="pt" cx="678.87" cy="999" r="5.8"/>
<circle class="pt" cx="678.87" cy="1083.3" r="5.8"/>
<circle class="pt" cx="678.87" cy="1100" r="5.8"/>
<circle class="pt" cx="678.87" cy="1106" r="5.8"/>
<circle class="pt" cx="678.87" cy="1120" r="5.8"/>
<circle class="pt" cx="678.87" cy="1124" r="5.8"/>
<circle class="pt" cx="678.87" cy="1165.3" r="5.8"/>
<circle class="pt" cx="770.66" cy="800" r="5.8"/>
<circle class="pt" cx="770.66" cy="850" r="5.8"/>
<circle class="pt" cx="770.66" cy="914" r="5.8"/>
<circle class="pt" cx="770.66" cy="961.7" r="5.8"/>
<circle class="pt" cx="770.66" cy="991" r="5.8"/>
<circle class="pt" cx="770.66" cy="1089.7" r="5.8"/>
<circle class="pt" cx="770.66" cy="1120" r="5.8"/>
<circle class="pt" cx="770.66" cy="1180.7" r="5.8"/>
<circle class="pt" cx="770.66" cy="1188.7" r="5.8"/>
<circle class="pt" cx="862.45" cy="951.7" r="5.8"/>
<circle class="pt" cx="862.45" cy="979.5" r="5.8"/>
<circle class="pt" cx="862.45" cy="981" r="5.8"/>
<circle class="pt" cx="862.45" cy="1005" r="5.8"/>
<circle class="pt" cx="862.45" cy="1007" r="5.8"/>
<circle class="pt" cx="862.45" cy="1010" r="5.8"/>
<circle class="pt" cx="862.45" cy="1016.7" r="5.8"/>
<circle class="pt" cx="862.45" cy="1052.7" r="5.8"/>
<circle class="pt" cx="954.24" cy="838.3" r="5.8"/>
<circle class="pt" cx="954.24" cy="874.3" r="5.8"/>
<circle class="pt" cx="954.24" cy="945" r="5.8"/>
<circle class="pt" cx="954.24" cy="993.3" r="5.8"/>
<circle class="pt" cx="954.24" cy="1017" r="5.8"/>
<circle class="pt" cx="954.24" cy="1029.7" r="5.8"/>
<circle class="pt" cx="954.24" cy="1052.3" r="5.8"/>
<circle class="pt" cx="954.24" cy="1060" r="5.8"/>
<circle class="pt" cx="954.24" cy="1071.3" r="5.8"/>
<circle class="pt" cx="1046.03" cy="810" r="5.8"/>
<circle class="pt" cx="1046.03" cy="832.7" r="5.8"/>
<circle class="pt" cx="1046.03" cy="917.7" r="5.8"/>
<circle class="pt" cx="1046.03" cy="978.3" r="5.8"/>
<circle class="pt" cx="1046.03" cy="983" r="5.8"/>
<circle class="pt" cx="1046.03" cy="988.3" r="5.8"/>
<circle class="pt" cx="1046.03" cy="1007.3" r="5.8"/>
<circle class="pt" cx="1046.03" cy="1043.3" r="5.8"/>
<circle class="pt" cx="1046.03" cy="1054.7" r="5.8"/>
<path class="br" d="M678.27 711.9 V702.8 H1046.03 V711.9"/>
<path class="br" d="M678.27 746.6 V737.5 H954.24 V746.6"/>
<rect class="fr" x="623.8" y="658.3" width="477.3" height="575.2"/>
<line class="tk" x1="615.5" y1="777" x2="623.8" y2="777"/>
<text class="yt" transform="translate(604.4,784.1) scale(1.05,1)">7</text>
<line class="tk" x1="615.5" y1="900" x2="623.8" y2="900"/>
<text class="yt" transform="translate(604.4,907.1) scale(1.05,1)">6</text>
<line class="tk" x1="615.5" y1="1023.2" x2="623.8" y2="1023.2"/>
<text class="yt" transform="translate(604.4,1030.3) scale(1.05,1)">5</text>
<line class="tk" x1="615.5" y1="1145.9" x2="623.8" y2="1145.9"/>
<text class="yt" transform="translate(604.4,1153) scale(1.05,1)">4</text>
<line class="tk" x1="678.87" y1="1233.5" x2="678.87" y2="1241.8"/>
<line class="tk" x1="770.66" y1="1233.5" x2="770.66" y2="1241.8"/>
<line class="tk" x1="862.45" y1="1233.5" x2="862.45" y2="1241.8"/>
<line class="tk" x1="954.24" y1="1233.5" x2="954.24" y2="1241.8"/>
<line class="tk" x1="1046.03" y1="1233.5" x2="1046.03" y2="1241.8"/>
</g>
<g>
<line class="wh" x1="1212.21" y1="787.7" x2="1212.21" y2="803.3"/>
<line class="wh" x1="1212.21" y1="877.3" x2="1212.21" y2="957.3"/>
<rect class="bx" x="1177.71" y="803.3" width="69" height="74"/>
<line class="md" x1="1177.71" y1="848.3" x2="1246.71" y2="848.3"/>
<line class="wh" x1="1304.05" y1="883.3" x2="1304.05" y2="908.3"/>
<rect class="bx" x="1269.55" y="817.3" width="69" height="66"/>
<line class="md" x1="1269.55" y1="877.7" x2="1338.55" y2="877.7"/>
<circle class="ol" cx="1304.05" cy="706" r="7.0"/>
<circle class="ol" cx="1304.05" cy="1065.3" r="7.0"/>
<line class="wh" x1="1395.9" y1="747.3" x2="1395.9" y2="811.3"/>
<line class="wh" x1="1395.9" y1="903.7" x2="1395.9" y2="977.3"/>
<rect class="bx" x="1361.4" y="811.3" width="69" height="92.4"/>
<line class="md" x1="1361.4" y1="831.7" x2="1430.4" y2="831.7"/>
<line class="wh" x1="1487.75" y1="696.7" x2="1487.75" y2="824.3"/>
<line class="wh" x1="1487.75" y1="1046.7" x2="1487.75" y2="1131"/>
<rect class="bx" x="1453.25" y="824.3" width="69" height="222.4"/>
<line class="md" x1="1453.25" y1="927.8" x2="1522.25" y2="927.8"/>
<line class="wh" x1="1579.59" y1="796.7" x2="1579.59" y2="816.3"/>
<line class="wh" x1="1579.59" y1="971.7" x2="1579.59" y2="1020.7"/>
<rect class="bx" x="1545.09" y="816.3" width="69" height="155.4"/>
<line class="md" x1="1545.09" y1="964" x2="1614.09" y2="964"/>
<g class="nl">
<text transform="translate(1212.21,1230)"><tspan class="nn" x="-20.17" textLength="10.28" lengthAdjust="spacingAndGlyphs">n</tspan> <tspan class="ne" x="-5.07" dy="-1" textLength="9.45" lengthAdjust="spacingAndGlyphs">=</tspan> <tspan x="9.19" dy="1" textLength="12.04" lengthAdjust="spacingAndGlyphs">9</tspan></text>
<text transform="translate(1304.05,1230)"><tspan class="nn" x="-20.17" textLength="10.28" lengthAdjust="spacingAndGlyphs">n</tspan> <tspan class="ne" x="-5.07" dy="-1" textLength="9.45" lengthAdjust="spacingAndGlyphs">=</tspan> <tspan x="9.19" dy="1" textLength="12.04" lengthAdjust="spacingAndGlyphs">9</tspan></text>
<text transform="translate(1395.9,1230)"><tspan class="nn" x="-20.17" textLength="10.28" lengthAdjust="spacingAndGlyphs">n</tspan> <tspan class="ne" x="-5.07" dy="-1" textLength="9.45" lengthAdjust="spacingAndGlyphs">=</tspan> <tspan x="9.19" dy="1" textLength="12.04" lengthAdjust="spacingAndGlyphs">9</tspan></text>
<text transform="translate(1487.75,1230)"><tspan class="nn" x="-20.17" textLength="10.28" lengthAdjust="spacingAndGlyphs">n</tspan> <tspan class="ne" x="-5.07" dy="-1" textLength="9.45" lengthAdjust="spacingAndGlyphs">=</tspan> <tspan x="9.19" dy="1" textLength="12.04" lengthAdjust="spacingAndGlyphs">9</tspan></text>
<text transform="translate(1579.59,1230)"><tspan class="nn" x="-20.17" textLength="10.28" lengthAdjust="spacingAndGlyphs">n</tspan> <tspan class="ne" x="-5.07" dy="-1" textLength="9.45" lengthAdjust="spacingAndGlyphs">=</tspan> <tspan x="9.19" dy="1" textLength="12.04" lengthAdjust="spacingAndGlyphs">9</tspan></text>
</g>
<circle class="pt" cx="1212.21" cy="787" r="5.8"/>
<circle class="pt" cx="1212.21" cy="801.5" r="5.8"/>
<circle class="pt" cx="1212.21" cy="803.5" r="5.8"/>
<circle class="pt" cx="1212.21" cy="827" r="5.8"/>
<circle class="pt" cx="1212.21" cy="848.3" r="5.8"/>
<circle class="pt" cx="1212.21" cy="855.7" r="5.8"/>
<circle class="pt" cx="1212.21" cy="877.3" r="5.8"/>
<circle class="pt" cx="1212.21" cy="896" r="5.8"/>
<circle class="pt" cx="1212.21" cy="957.7" r="5.8"/>
<circle class="pt" cx="1304.05" cy="814" r="5.8"/>
<circle class="pt" cx="1304.05" cy="817.3" r="5.8"/>
<circle class="pt" cx="1304.05" cy="849.3" r="5.8"/>
<circle class="pt" cx="1304.05" cy="876.7" r="5.8"/>
<circle class="pt" cx="1304.05" cy="880" r="5.8"/>
<circle class="pt" cx="1304.05" cy="881.5" r="5.8"/>
<circle class="pt" cx="1304.05" cy="909.3" r="5.8"/>
<circle class="pt" cx="1395.9" cy="746.7" r="5.8"/>
<circle class="pt" cx="1395.9" cy="802.7" r="5.8"/>
<circle class="pt" cx="1395.9" cy="811.7" r="5.8"/>
<circle class="pt" cx="1395.9" cy="823.3" r="5.8"/>
<circle class="pt" cx="1395.9" cy="831.7" r="5.8"/>
<circle class="pt" cx="1395.9" cy="870.3" r="5.8"/>
<circle class="pt" cx="1395.9" cy="903.3" r="5.8"/>
<circle class="pt" cx="1395.9" cy="916.7" r="5.8"/>
<circle class="pt" cx="1395.9" cy="977.7" r="5.8"/>
<circle class="pt" cx="1487.75" cy="696" r="5.8"/>
<circle class="pt" cx="1487.75" cy="810" r="5.8"/>
<circle class="pt" cx="1487.75" cy="824.3" r="5.8"/>
<circle class="pt" cx="1487.75" cy="842.3" r="5.8"/>
<circle class="pt" cx="1487.75" cy="927.5" r="5.8"/>
<circle class="pt" cx="1487.75" cy="943.3" r="5.8"/>
<circle class="pt" cx="1487.75" cy="1046.7" r="5.8"/>
<circle class="pt" cx="1487.75" cy="1060.7" r="5.8"/>
<circle class="pt" cx="1487.75" cy="1131.3" r="5.8"/>
<circle class="pt" cx="1579.59" cy="796" r="5.8"/>
<circle class="pt" cx="1579.59" cy="816" r="5.8"/>
<circle class="pt" cx="1579.59" cy="816.6" r="5.8"/>
<circle class="pt" cx="1579.59" cy="823" r="5.8"/>
<circle class="pt" cx="1579.59" cy="963.3" r="5.8"/>
<circle class="pt" cx="1579.59" cy="970.2" r="5.8"/>
<circle class="pt" cx="1579.59" cy="971.2" r="5.8"/>
<circle class="pt" cx="1579.59" cy="984" r="5.8"/>
<circle class="pt" cx="1579.59" cy="1020.7" r="5.8"/>
<rect class="fr" x="1157.1" y="658.3" width="477.6" height="575.2"/>
<line class="tk" x1="1148.8" y1="777" x2="1157.1" y2="777"/>
<text class="yt" transform="translate(1137.7,784.1) scale(1.05,1)">7</text>
<line class="tk" x1="1148.8" y1="900" x2="1157.1" y2="900"/>
<text class="yt" transform="translate(1137.7,907.1) scale(1.05,1)">6</text>
<line class="tk" x1="1148.8" y1="1023.2" x2="1157.1" y2="1023.2"/>
<text class="yt" transform="translate(1137.7,1030.3) scale(1.05,1)">5</text>
<line class="tk" x1="1148.8" y1="1145.9" x2="1157.1" y2="1145.9"/>
<text class="yt" transform="translate(1137.7,1153) scale(1.05,1)">4</text>
<line class="tk" x1="1212.21" y1="1233.5" x2="1212.21" y2="1241.8"/>
<line class="tk" x1="1304.05" y1="1233.5" x2="1304.05" y2="1241.8"/>
<line class="tk" x1="1395.9" y1="1233.5" x2="1395.9" y2="1241.8"/>
<line class="tk" x1="1487.75" y1="1233.5" x2="1487.75" y2="1241.8"/>
<line class="tk" x1="1579.59" y1="1233.5" x2="1579.59" y2="1241.8"/>
</g>
<g>
<line class="wh" x1="145.32" y1="1785" x2="145.32" y2="1792.3"/>
<line class="wh" x1="145.32" y1="1813.3" x2="145.32" y2="1838.3"/>
<rect class="bx" x="110.82" y="1792.3" width="69" height="21"/>
<line class="md" x1="110.82" y1="1805" x2="179.82" y2="1805"/>
<line class="wh" x1="237.18" y1="1768.3" x2="237.18" y2="1780.7"/>
<line class="wh" x1="237.18" y1="1817" x2="237.18" y2="1836"/>
<rect class="bx" x="202.68" y="1780.7" width="69" height="36.3"/>
<line class="md" x1="202.68" y1="1802.3" x2="271.68" y2="1802.3"/>
<line class="wh" x1="329.05" y1="1738.3" x2="329.05" y2="1776.7"/>
<line class="wh" x1="329.05" y1="1806.7" x2="329.05" y2="1817.3"/>
<rect class="bx" x="294.55" y="1776.7" width="69" height="30"/>
<line class="md" x1="294.55" y1="1800.7" x2="363.55" y2="1800.7"/>
<circle class="ol" cx="329.05" cy="1707" r="7.0"/>
<line class="wh" x1="420.92" y1="1789" x2="420.92" y2="1801"/>
<line class="wh" x1="420.92" y1="1813.3" x2="420.92" y2="1826.7"/>
<rect class="bx" x="386.42" y="1801" width="69" height="12.3"/>
<line class="md" x1="386.42" y1="1804.6" x2="455.42" y2="1804.6"/>
<line class="wh" x1="512.78" y1="1782.3" x2="512.78" y2="1795.3"/>
<line class="wh" x1="512.78" y1="1815" x2="512.78" y2="1829.3"/>
<rect class="bx" x="478.28" y="1795.3" width="69" height="19.7"/>
<line class="md" x1="478.28" y1="1799.8" x2="547.28" y2="1799.8"/>
<circle class="ol" cx="512.78" cy="1727" r="7.0"/>
<g class="nl">
<text transform="translate(145.32,1849)"><tspan class="nn" x="-20.17" textLength="10.28" lengthAdjust="spacingAndGlyphs">n</tspan> <tspan class="ne" x="-5.07" dy="-1" textLength="9.45" lengthAdjust="spacingAndGlyphs">=</tspan> <tspan x="9.19" dy="1" textLength="12.04" lengthAdjust="spacingAndGlyphs">9</tspan></text>
<text transform="translate(237.18,1849)"><tspan class="nn" x="-20.17" textLength="10.28" lengthAdjust="spacingAndGlyphs">n</tspan> <tspan class="ne" x="-5.07" dy="-1" textLength="9.45" lengthAdjust="spacingAndGlyphs">=</tspan> <tspan x="9.19" dy="1" textLength="12.04" lengthAdjust="spacingAndGlyphs">9</tspan></text>
<text transform="translate(329.05,1849)"><tspan class="nn" x="-20.17" textLength="10.28" lengthAdjust="spacingAndGlyphs">n</tspan> <tspan class="ne" x="-5.07" dy="-1" textLength="9.45" lengthAdjust="spacingAndGlyphs">=</tspan> <tspan x="9.19" dy="1" textLength="12.04" lengthAdjust="spacingAndGlyphs">9</tspan></text>
<text transform="translate(420.92,1849)"><tspan class="nn" x="-20.17" textLength="10.28" lengthAdjust="spacingAndGlyphs">n</tspan> <tspan class="ne" x="-5.07" dy="-1" textLength="9.45" lengthAdjust="spacingAndGlyphs">=</tspan> <tspan x="9.19" dy="1" textLength="12.04" lengthAdjust="spacingAndGlyphs">9</tspan></text>
<text transform="translate(512.78,1849)"><tspan class="nn" x="-20.17" textLength="10.28" lengthAdjust="spacingAndGlyphs">n</tspan> <tspan class="ne" x="-5.07" dy="-1" textLength="9.45" lengthAdjust="spacingAndGlyphs">=</tspan> <tspan x="9.19" dy="1" textLength="12.04" lengthAdjust="spacingAndGlyphs">9</tspan></text>
</g>
<circle class="pt" cx="145.32" cy="1782.3" r="5.8"/>
<circle class="pt" cx="145.32" cy="1788.3" r="5.8"/>
<circle class="pt" cx="145.32" cy="1793" r="5.8"/>
<circle class="pt" cx="145.32" cy="1805" r="5.8"/>
<circle class="pt" cx="145.32" cy="1805.7" r="5.8"/>
<circle class="pt" cx="145.32" cy="1806" r="5.8"/>
<circle class="pt" cx="145.32" cy="1813" r="5.8"/>
<circle class="pt" cx="145.32" cy="1825.7" r="5.8"/>
<circle class="pt" cx="145.32" cy="1838.3" r="5.8"/>
<circle class="pt" cx="237.18" cy="1767" r="5.8"/>
<circle class="pt" cx="237.18" cy="1778.3" r="5.8"/>
<circle class="pt" cx="237.18" cy="1781" r="5.8"/>
<circle class="pt" cx="237.18" cy="1801.5" r="5.8"/>
<circle class="pt" cx="237.18" cy="1802.3" r="5.8"/>
<circle class="pt" cx="237.18" cy="1810" r="5.8"/>
<circle class="pt" cx="237.18" cy="1817.3" r="5.8"/>
<circle class="pt" cx="237.18" cy="1817.6" r="5.8"/>
<circle class="pt" cx="237.18" cy="1836" r="5.8"/>
<circle class="pt" cx="329.05" cy="1737.7" r="5.8"/>
<circle class="pt" cx="329.05" cy="1776.7" r="5.8"/>
<circle class="pt" cx="329.05" cy="1785.7" r="5.8"/>
<circle class="pt" cx="329.05" cy="1800" r="5.8"/>
<circle class="pt" cx="329.05" cy="1804.5" r="5.8"/>
<circle class="pt" cx="329.05" cy="1805.5" r="5.8"/>
<circle class="pt" cx="329.05" cy="1813.3" r="5.8"/>
<circle class="pt" cx="329.05" cy="1817.3" r="5.8"/>
<circle class="pt" cx="420.92" cy="1788.5" r="5.8"/>
<circle class="pt" cx="420.92" cy="1789.5" r="5.8"/>
<circle class="pt" cx="420.92" cy="1801" r="5.8"/>
<circle class="pt" cx="420.92" cy="1804" r="5.8"/>
<circle class="pt" cx="420.92" cy="1805" r="5.8"/>
<circle class="pt" cx="420.92" cy="1806" r="5.8"/>
<circle class="pt" cx="420.92" cy="1810" r="5.8"/>
<circle class="pt" cx="420.92" cy="1813.3" r="5.8"/>
<circle class="pt" cx="420.92" cy="1826.7" r="5.8"/>
<circle class="pt" cx="512.78" cy="1782.3" r="5.8"/>
<circle class="pt" cx="512.78" cy="1797" r="5.8"/>
<circle class="pt" cx="512.78" cy="1798" r="5.8"/>
<circle class="pt" cx="512.78" cy="1799" r="5.8"/>
<circle class="pt" cx="512.78" cy="1813.3" r="5.8"/>
<circle class="pt" cx="512.78" cy="1815" r="5.8"/>
<circle class="pt" cx="512.78" cy="1829" r="5.8"/>
<circle class="pt" cx="512.78" cy="1829.6" r="5.8"/>
<rect class="fr" x="90.2" y="1277.3" width="477.7" height="575.5"/>
<line class="tk" x1="81.9" y1="1458.3" x2="90.2" y2="1458.3"/>
<text class="yt" transform="translate(70.8,1465.4) scale(1.05,1)">8</text>
<line class="tk" x1="81.9" y1="1627.4" x2="90.2" y2="1627.4"/>
<text class="yt" transform="translate(70.8,1634.5) scale(1.05,1)">6</text>
<line class="tk" x1="81.9" y1="1796.9" x2="90.2" y2="1796.9"/>
<text class="yt" transform="translate(70.8,1804) scale(1.05,1)">4</text>
<line class="tk" x1="145.32" y1="1852.8" x2="145.32" y2="1861.1"/>
<text class="xl" transform="translate(159.83,1884.08) rotate(-45) scale(1.0666,1)">Col-0</text>
<line class="tk" x1="237.18" y1="1852.8" x2="237.18" y2="1861.1"/>
<text class="xl it" transform="translate(253.9,1884.26) rotate(-45) scale(1.1094,1)">igmt3</text>
<line class="tk" x1="329.05" y1="1852.8" x2="329.05" y2="1861.1"/>
<text class="xl it" transform="translate(342.93,1885.29) rotate(-45) scale(0.9744,1)">chx16</text>
<line class="tk" x1="420.92" y1="1852.8" x2="420.92" y2="1861.1"/>
<text class="xl it" transform="translate(433.45,1884.26) rotate(-45) scale(0.9235,1)">cyp71a12 cyp71a13</text>
<line class="tk" x1="512.78" y1="1852.8" x2="512.78" y2="1861.1"/>
<text class="xl it" transform="translate(527.03,1885.34) rotate(-45) scale(0.9873,1)">mlo12</text>
</g>
<g>
<line class="wh" x1="678.87" y1="1549.3" x2="678.87" y2="1588.3"/>
<line class="wh" x1="678.87" y1="1781.7" x2="678.87" y2="1816.7"/>
<rect class="bx" x="644.37" y="1588.3" width="69" height="193.4"/>
<line class="md" x1="644.37" y1="1716.3" x2="713.37" y2="1716.3"/>
<line class="wh" x1="770.66" y1="1554" x2="770.66" y2="1596.3"/>
<line class="wh" x1="770.66" y1="1637.3" x2="770.66" y2="1690.7"/>
<rect class="bx" x="736.16" y="1596.3" width="69" height="41"/>
<line class="md" x1="736.16" y1="1625.7" x2="805.16" y2="1625.7"/>
<circle class="ol" cx="770.66" cy="1774.3" r="7.0"/>
<line class="wh" x1="862.45" y1="1516.7" x2="862.45" y2="1598.3"/>
<line class="wh" x1="862.45" y1="1679.7" x2="862.45" y2="1729.3"/>
<rect class="bx" x="827.95" y="1598.3" width="69" height="81.4"/>
<line class="md" x1="827.95" y1="1666.7" x2="896.95" y2="1666.7"/>
<line class="wh" x1="954.24" y1="1577.3" x2="954.24" y2="1640.7"/>
<line class="wh" x1="954.24" y1="1695.3" x2="954.24" y2="1767.7"/>
<rect class="bx" x="919.74" y="1640.7" width="69" height="54.6"/>
<line class="md" x1="919.74" y1="1644.8" x2="988.74" y2="1644.8"/>
<circle class="ol" cx="954.24" cy="1535" r="7.0"/>
<circle class="ol" cx="954.24" cy="1823" r="7.0"/>
<line class="wh" x1="1046.03" y1="1692.3" x2="1046.03" y2="1707.7"/>
<line class="wh" x1="1046.03" y1="1821.7" x2="1046.03" y2="1835"/>
<rect class="bx" x="1011.53" y="1707.7" width="69" height="114"/>
<line class="md" x1="1011.53" y1="1814" x2="1080.53" y2="1814"/>
<g class="nl">
<text transform="translate(678.87,1849)"><tspan class="nn" x="-20.17" textLength="10.28" lengthAdjust="spacingAndGlyphs">n</tspan> <tspan class="ne" x="-5.07" dy="-1" textLength="9.45" lengthAdjust="spacingAndGlyphs">=</tspan> <tspan x="9.19" dy="1" textLength="12.04" lengthAdjust="spacingAndGlyphs">9</tspan></text>
<text transform="translate(770.66,1849)"><tspan class="nn" x="-20.17" textLength="10.28" lengthAdjust="spacingAndGlyphs">n</tspan> <tspan class="ne" x="-5.07" dy="-1" textLength="9.45" lengthAdjust="spacingAndGlyphs">=</tspan> <tspan x="9.19" dy="1" textLength="12.04" lengthAdjust="spacingAndGlyphs">9</tspan></text>
<text transform="translate(862.45,1849)"><tspan class="nn" x="-20.17" textLength="10.28" lengthAdjust="spacingAndGlyphs">n</tspan> <tspan class="ne" x="-5.07" dy="-1" textLength="9.45" lengthAdjust="spacingAndGlyphs">=</tspan> <tspan x="9.19" dy="1" textLength="12.04" lengthAdjust="spacingAndGlyphs">9</tspan></text>
<text transform="translate(954.24,1849)"><tspan class="nn" x="-20.17" textLength="10.28" lengthAdjust="spacingAndGlyphs">n</tspan> <tspan class="ne" x="-5.07" dy="-1" textLength="9.45" lengthAdjust="spacingAndGlyphs">=</tspan> <tspan x="9.19" dy="1" textLength="12.04" lengthAdjust="spacingAndGlyphs">9</tspan></text>
<text transform="translate(1046.03,1849)"><tspan class="nn" x="-20.17" textLength="10.28" lengthAdjust="spacingAndGlyphs">n</tspan> <tspan class="ne" x="-5.07" dy="-1" textLength="9.45" lengthAdjust="spacingAndGlyphs">=</tspan> <tspan x="9.19" dy="1" textLength="12.04" lengthAdjust="spacingAndGlyphs">9</tspan></text>
</g>
<circle class="pt" cx="678.87" cy="1549" r="5.8"/>
<circle class="pt" cx="678.87" cy="1585" r="5.8"/>
<circle class="pt" cx="678.87" cy="1589" r="5.8"/>
<circle class="pt" cx="678.87" cy="1643.7" r="5.8"/>
<circle class="pt" cx="678.87" cy="1716.3" r="5.8"/>
<circle class="pt" cx="678.87" cy="1751.7" r="5.8"/>
<circle class="pt" cx="678.87" cy="1781" r="5.8"/>
<circle class="pt" cx="678.87" cy="1798.3" r="5.8"/>
<circle class="pt" cx="678.87" cy="1817.3" r="5.8"/>
<circle class="pt" cx="770.66" cy="1553.3" r="5.8"/>
<circle class="pt" cx="770.66" cy="1572.3" r="5.8"/>
<circle class="pt" cx="770.66" cy="1596.7" r="5.8"/>
<circle class="pt" cx="770.66" cy="1617.3" r="5.8"/>
<circle class="pt" cx="770.66" cy="1625.3" r="5.8"/>
<circle class="pt" cx="770.66" cy="1626" r="5.8"/>
<circle class="pt" cx="770.66" cy="1636.7" r="5.8"/>
<circle class="pt" cx="770.66" cy="1691.3" r="5.8"/>
<circle class="pt" cx="862.45" cy="1516" r="5.8"/>
<circle class="pt" cx="862.45" cy="1574.7" r="5.8"/>
<circle class="pt" cx="862.45" cy="1598.3" r="5.8"/>
<circle class="pt" cx="862.45" cy="1640.3" r="5.8"/>
<circle class="pt" cx="862.45" cy="1665.7" r="5.8"/>
<circle class="pt" cx="862.45" cy="1670" r="5.8"/>
<circle class="pt" cx="862.45" cy="1679.7" r="5.8"/>
<circle class="pt" cx="862.45" cy="1707.7" r="5.8"/>
<circle class="pt" cx="862.45" cy="1729.3" r="5.8"/>
<circle class="pt" cx="954.24" cy="1576.7" r="5.8"/>
<circle class="pt" cx="954.24" cy="1640.5" r="5.8"/>
<circle class="pt" cx="954.24" cy="1643.5" r="5.8"/>
<circle class="pt" cx="954.24" cy="1644.5" r="5.8"/>
<circle class="pt" cx="954.24" cy="1658.3" r="5.8"/>
<circle class="pt" cx="954.24" cy="1695" r="5.8"/>
<circle class="pt" cx="954.24" cy="1767.7" r="5.8"/>
<circle class="pt" cx="1046.03" cy="1691.7" r="5.8"/>
<circle class="pt" cx="1046.03" cy="1700" r="5.8"/>
<circle class="pt" cx="1046.03" cy="1708.3" r="5.8"/>
<circle class="pt" cx="1046.03" cy="1800" r="5.8"/>
<circle class="pt" cx="1046.03" cy="1813" r="5.8"/>
<circle class="pt" cx="1046.03" cy="1814" r="5.8"/>
<circle class="pt" cx="1046.03" cy="1818" r="5.8"/>
<circle class="pt" cx="1046.03" cy="1828.3" r="5.8"/>
<circle class="pt" cx="1046.03" cy="1835.7" r="5.8"/>
<rect class="fr" x="623.8" y="1277.3" width="477.3" height="575.5"/>
<line class="tk" x1="615.5" y1="1458.3" x2="623.8" y2="1458.3"/>
<text class="yt" transform="translate(604.4,1465.4) scale(1.05,1)">8</text>
<line class="tk" x1="615.5" y1="1627.4" x2="623.8" y2="1627.4"/>
<text class="yt" transform="translate(604.4,1634.5) scale(1.05,1)">6</text>
<line class="tk" x1="615.5" y1="1796.9" x2="623.8" y2="1796.9"/>
<text class="yt" transform="translate(604.4,1804) scale(1.05,1)">4</text>
<line class="tk" x1="678.87" y1="1852.8" x2="678.87" y2="1861.1"/>
<text class="xl" transform="translate(693.39,1884.08) rotate(-45) scale(1.0666,1)">Col-0</text>
<line class="tk" x1="770.66" y1="1852.8" x2="770.66" y2="1861.1"/>
<text class="xl it" transform="translate(787.38,1884.26) rotate(-45) scale(1.1094,1)">igmt3</text>
<line class="tk" x1="862.45" y1="1852.8" x2="862.45" y2="1861.1"/>
<text class="xl it" transform="translate(876.33,1885.29) rotate(-45) scale(0.9744,1)">chx16</text>
<line class="tk" x1="954.24" y1="1852.8" x2="954.24" y2="1861.1"/>
<text class="xl it" transform="translate(966.77,1884.26) rotate(-45) scale(0.9235,1)">cyp71a12 cyp71a13</text>
<line class="tk" x1="1046.03" y1="1852.8" x2="1046.03" y2="1861.1"/>
<text class="xl it" transform="translate(1060.27,1885.34) rotate(-45) scale(0.9873,1)">mlo12</text>
</g>
<g>
<line class="wh" x1="1212.21" y1="1453.3" x2="1212.21" y2="1514.3"/>
<line class="wh" x1="1212.21" y1="1632.7" x2="1212.21" y2="1710.7"/>
<rect class="bx" x="1177.71" y="1514.3" width="69" height="118.4"/>
<line class="md" x1="1177.71" y1="1570" x2="1246.71" y2="1570"/>
<line class="wh" x1="1304.05" y1="1530.7" x2="1304.05" y2="1554"/>
<line class="wh" x1="1304.05" y1="1636.3" x2="1304.05" y2="1656"/>
<rect class="bx" x="1269.55" y="1554" width="69" height="82.3"/>
<line class="md" x1="1269.55" y1="1593.3" x2="1338.55" y2="1593.3"/>
<circle class="ol" cx="1304.05" cy="1335.3" r="7.0"/>
<line class="wh" x1="1395.9" y1="1439" x2="1395.9" y2="1463.7"/>
<line class="wh" x1="1395.9" y1="1539.7" x2="1395.9" y2="1580"/>
<rect class="bx" x="1361.4" y="1463.7" width="69" height="76"/>
<line class="md" x1="1361.4" y1="1499" x2="1430.4" y2="1499"/>
<line class="wh" x1="1487.75" y1="1315" x2="1487.75" y2="1351"/>
<line class="wh" x1="1487.75" y1="1499.3" x2="1487.75" y2="1587"/>
<rect class="bx" x="1453.25" y="1351" width="69" height="148.3"/>
<line class="md" x1="1453.25" y1="1393.7" x2="1522.25" y2="1393.7"/>
<line class="wh" x1="1579.59" y1="1376" x2="1579.59" y2="1446"/>
<line class="wh" x1="1579.59" y1="1571.5" x2="1579.59" y2="1601"/>
<rect class="bx" x="1545.09" y="1446" width="69" height="125.5"/>
<line class="md" x1="1545.09" y1="1491.7" x2="1614.09" y2="1491.7"/>
<g class="nl">
<text transform="translate(1212.21,1849)"><tspan class="nn" x="-20.17" textLength="10.28" lengthAdjust="spacingAndGlyphs">n</tspan> <tspan class="ne" x="-5.07" dy="-1" textLength="9.45" lengthAdjust="spacingAndGlyphs">=</tspan> <tspan x="9.3" dy="1" textLength="10.5" lengthAdjust="spacingAndGlyphs">8</tspan></text>
<text transform="translate(1304.05,1849)"><tspan class="nn" x="-20.17" textLength="10.28" lengthAdjust="spacingAndGlyphs">n</tspan> <tspan class="ne" x="-5.07" dy="-1" textLength="9.45" lengthAdjust="spacingAndGlyphs">=</tspan> <tspan x="9.3" dy="1" textLength="10.5" lengthAdjust="spacingAndGlyphs">8</tspan></text>
<text transform="translate(1395.9,1849)"><tspan class="nn" x="-20.17" textLength="10.28" lengthAdjust="spacingAndGlyphs">n</tspan> <tspan class="ne" x="-5.07" dy="-1" textLength="9.45" lengthAdjust="spacingAndGlyphs">=</tspan> <tspan x="9.3" dy="1" textLength="10.5" lengthAdjust="spacingAndGlyphs">8</tspan></text>
<text transform="translate(1487.75,1849)"><tspan class="nn" x="-20.17" textLength="10.28" lengthAdjust="spacingAndGlyphs">n</tspan> <tspan class="ne" x="-5.07" dy="-1" textLength="9.45" lengthAdjust="spacingAndGlyphs">=</tspan> <tspan x="9.3" dy="1" textLength="10.5" lengthAdjust="spacingAndGlyphs">8</tspan></text>
<text transform="translate(1579.59,1849)"><tspan class="nn" x="-20.17" textLength="10.28" lengthAdjust="spacingAndGlyphs">n</tspan> <tspan class="ne" x="-5.07" dy="-1" textLength="9.45" lengthAdjust="spacingAndGlyphs">=</tspan> <tspan x="9.19" dy="1" textLength="12.04" lengthAdjust="spacingAndGlyphs">9</tspan></text>
</g>
<circle class="pt" cx="1212.21" cy="1452.7" r="5.8"/>
<circle class="pt" cx="1212.21" cy="1483.7" r="5.8"/>
<circle class="pt" cx="1212.21" cy="1525" r="5.8"/>
<circle class="pt" cx="1212.21" cy="1548.3" r="5.8"/>
<circle class="pt" cx="1212.21" cy="1591.5" r="5.8"/>
<circle class="pt" cx="1212.21" cy="1610" r="5.8"/>
<circle class="pt" cx="1212.21" cy="1701.7" r="5.8"/>
<circle class="pt" cx="1212.21" cy="1712" r="5.8"/>
<circle class="pt" cx="1304.05" cy="1530.7" r="5.8"/>
<circle class="pt" cx="1304.05" cy="1562" r="5.8"/>
<circle class="pt" cx="1304.05" cy="1566.3" r="5.8"/>
<circle class="pt" cx="1304.05" cy="1620.7" r="5.8"/>
<circle class="pt" cx="1304.05" cy="1630" r="5.8"/>
<circle class="pt" cx="1304.05" cy="1655.5" r="5.8"/>
<circle class="pt" cx="1304.05" cy="1656.5" r="5.8"/>
<circle class="pt" cx="1395.9" cy="1438.3" r="5.8"/>
<circle class="pt" cx="1395.9" cy="1441.7" r="5.8"/>
<circle class="pt" cx="1395.9" cy="1471.7" r="5.8"/>
<circle class="pt" cx="1395.9" cy="1480" r="5.8"/>
<circle class="pt" cx="1395.9" cy="1517.7" r="5.8"/>
<circle class="pt" cx="1395.9" cy="1532" r="5.8"/>
<circle class="pt" cx="1395.9" cy="1562.3" r="5.8"/>
<circle class="pt" cx="1395.9" cy="1580.5" r="5.8"/>
<circle class="pt" cx="1487.75" cy="1315" r="5.8"/>
<circle class="pt" cx="1487.75" cy="1322.3" r="5.8"/>
<circle class="pt" cx="1487.75" cy="1361" r="5.8"/>
<circle class="pt" cx="1487.75" cy="1390" r="5.8"/>
<circle class="pt" cx="1487.75" cy="1396.7" r="5.8"/>
<circle class="pt" cx="1487.75" cy="1480" r="5.8"/>
<circle class="pt" cx="1487.75" cy="1556.7" r="5.8"/>
<circle class="pt" cx="1487.75" cy="1587.3" r="5.8"/>
<circle class="pt" cx="1579.59" cy="1376" r="5.8"/>
<circle class="pt" cx="1579.59" cy="1406.3" r="5.8"/>
<circle class="pt" cx="1579.59" cy="1446" r="5.8"/>
<circle class="pt" cx="1579.59" cy="1455" r="5.8"/>
<circle class="pt" cx="1579.59" cy="1491.7" r="5.8"/>
<circle class="pt" cx="1579.59" cy="1507.3" r="5.8"/>
<circle class="pt" cx="1579.59" cy="1571.7" r="5.8"/>
<circle class="pt" cx="1579.59" cy="1578.3" r="5.8"/>
<circle class="pt" cx="1579.59" cy="1601" r="5.8"/>
<path class="br" d="M1211.61 1730.9 V1740.3 H1395.9 V1730.9"/>
<path class="br" d="M1211.61 1766.1 V1775.5 H1487.75 V1766.1"/>
<path class="br" d="M1211.61 1799.6 V1809 H1579.59 V1799.6"/>
<rect class="fr" x="1157.1" y="1277.3" width="477.6" height="575.5"/>
<line class="tk" x1="1148.8" y1="1458.3" x2="1157.1" y2="1458.3"/>
<text class="yt" transform="translate(1137.7,1465.4) scale(1.05,1)">8</text>
<line class="tk" x1="1148.8" y1="1627.4" x2="1157.1" y2="1627.4"/>
<text class="yt" transform="translate(1137.7,1634.5) scale(1.05,1)">6</text>
<line class="tk" x1="1148.8" y1="1796.9" x2="1157.1" y2="1796.9"/>
<text class="yt" transform="translate(1137.7,1804) scale(1.05,1)">4</text>
<line class="tk" x1="1212.21" y1="1852.8" x2="1212.21" y2="1861.1"/>
<text class="xl" transform="translate(1226.72,1884.08) rotate(-45) scale(1.0666,1)">Col-0</text>
<line class="tk" x1="1304.05" y1="1852.8" x2="1304.05" y2="1861.1"/>
<text class="xl it" transform="translate(1320.77,1884.26) rotate(-45) scale(1.1094,1)">igmt3</text>
<line class="tk" x1="1395.9" y1="1852.8" x2="1395.9" y2="1861.1"/>
<text class="xl it" transform="translate(1409.78,1885.29) rotate(-45) scale(0.9744,1)">chx16</text>
<line class="tk" x1="1487.75" y1="1852.8" x2="1487.75" y2="1861.1"/>
<text class="xl it" transform="translate(1500.28,1884.26) rotate(-45) scale(0.9235,1)">cyp71a12 cyp71a13</text>
<line class="tk" x1="1579.59" y1="1852.8" x2="1579.59" y2="1861.1"/>
<text class="xl it" transform="translate(1593.84,1885.34) rotate(-45) scale(0.9873,1)">mlo12</text>
</g>
<g class="st">
<text x="811" y="87.62">*</text>
<text x="765.1" y="123.53">*</text>
<text x="849.75" y="706.58" style="letter-spacing:2.3px">**</text>
<text x="810.9" y="743.83">*</text>
<text x="1298.9" y="1776.03">*</text>
<text x="1337.9" y="1810.03" style="letter-spacing:2.3px">**</text>
<text x="1389.95" y="1841.83">*</text>
</g>
</svg>
</body></html>
